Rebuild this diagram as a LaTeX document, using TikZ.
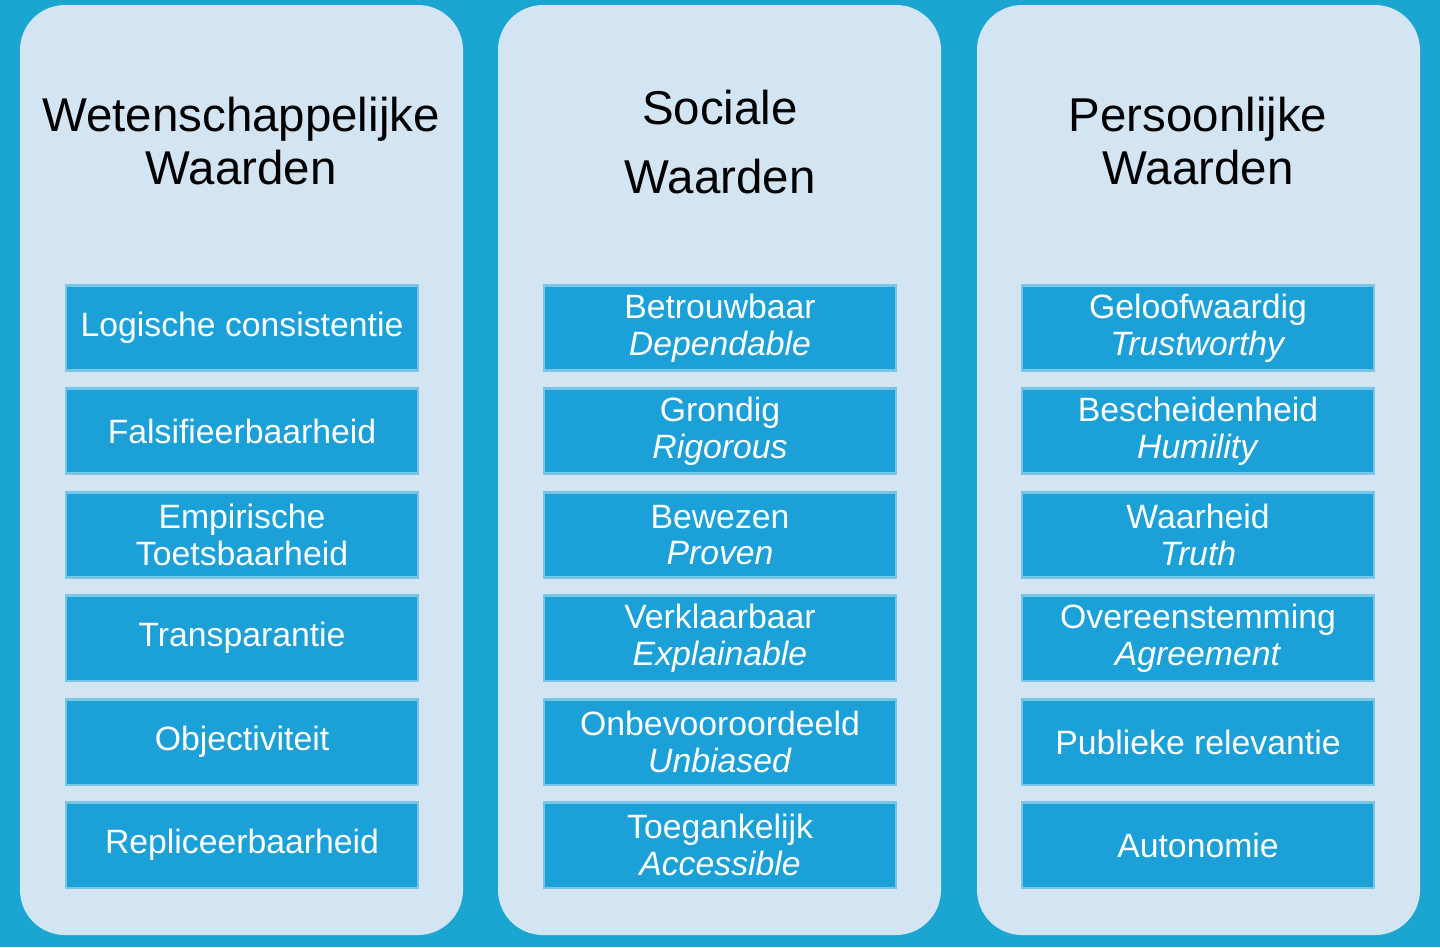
\documentclass[tikz,border=0pt]{standalone}
\usepackage{fontspec}
\setmainfont{Liberation Sans}
\usepackage{tikz}
\definecolor{bgblue}{HTML}{1BA6D2}
\definecolor{panel}{HTML}{D3E4F2}
\definecolor{boxblue}{HTML}{1CA0D8}
\tikzset{
  panelbox/.style={fill=panel, rounded corners=0.45cm},
  valbox/.style={fill=boxblue, draw=boxblue!60!white, line width=0.6pt,
    minimum width=3.52cm, minimum height=0.85cm, text=white,
    font=\fontsize{9.6}{10.4}\selectfont, align=center, inner sep=0pt},
  title/.style={font=\fontsize{13.5}{15}\selectfont, align=center}
}
\begin{document}
\begin{tikzpicture}[x=0.01cm, y=-0.01cm]
    \fill[bgblue] (0, 0) rectangle (1440, 947);
    \useasboundingbox (0, 0) rectangle (1440, 947);

    % panels
    \fill[panelbox] (20, 5) rectangle (463, 935);
    \fill[panelbox] (498, 5) rectangle (941, 935);
    \fill[panelbox] (977, 5) rectangle (1420, 935);

    \node[title] (t1) at (241, 141) {Wetenschappelijke\\Waarden};
    \node[title] (t2) at (720, 108) {Sociale};
    \node[title] (t2b) at (720, 177) {Waarden};
    \node[title] (t3) at (1198, 141) {Persoonlijke\\Waarden};

    % scientific
    \node[valbox] (w1) at (242, 328) {Logische consistentie};
    \node[valbox] (w2) at (242, 431) {Falsifieerbaarheid};
    \node[valbox] (w3) at (242, 535) {Empirische\\Toetsbaarheid};
    \node[valbox] (w4) at (242, 638) {Transparantie};
    \node[valbox] (w5) at (242, 742) {Objectiviteit};
    \node[valbox] (w6) at (242, 845) {Repliceerbaarheid};

    % social
    \node[valbox] (s1) at (720, 328) {Betrouwbaar\\\textit{Dependable}};
    \node[valbox] (s2) at (720, 431) {Grondig\\\textit{Rigorous}};
    \node[valbox] (s3) at (720, 535) {Bewezen\\\textit{Proven}};
    \node[valbox] (s4) at (720, 638) {Verklaarbaar\\\textit{Explainable}};
    \node[valbox] (s5) at (720, 742) {Onbevooroordeeld\\\textit{Unbiased}};
    \node[valbox] (s6) at (720, 845) {Toegankelijk\\\textit{Accessible}};

    % personal
    \node[valbox] (p1) at (1198, 328) {Geloofwaardig\\\textit{Trustworthy}};
    \node[valbox] (p2) at (1198, 431) {Bescheidenheid\\\textit{Humility}};
    \node[valbox] (p3) at (1198, 535) {Waarheid\\\textit{Truth}};
    \node[valbox] (p4) at (1198, 638) {Overeenstemming\\\textit{Agreement}};
    \node[valbox] (p5) at (1198, 742) {Publieke relevantie};
    \node[valbox] (p6) at (1198, 845) {Autonomie};
\end{tikzpicture}
\end{document}
